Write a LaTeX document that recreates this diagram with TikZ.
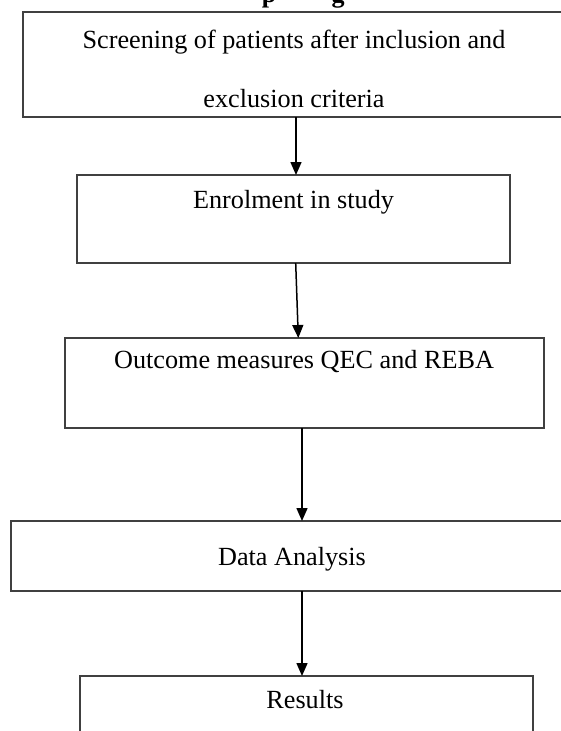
\documentclass[tikz,border=0pt]{standalone}
\usepackage{fontspec}
\setmainfont{Liberation Serif}
\usetikzlibrary{arrows.meta}
\tikzset{
  box/.style={draw=black!75, line width=1.2pt, rectangle, inner sep=0pt, outer sep=0pt},
  txt/.style={anchor=base, inner sep=0pt, outer sep=0pt, font=\fontsize{26.2}{30}\selectfont},
  frag/.style={anchor=base, inner sep=0pt, outer sep=0pt, font=\fontsize{26}{30}\selectfont\bfseries},
  arr/.style={draw=black, line width=1.5pt, -{Triangle[width=11pt,length=13pt]}}
}
\begin{document}
\begin{tikzpicture}[x=1pt, y=-1pt]
\useasboundingbox (0,0) rectangle (561,731);
\clip (0,0) rectangle (561,731);
\fill[white] (0,0) rectangle (561,731);
% cut-off heading fragments
\node[frag] (h1) at (269,2) {p};
\node[frag] (h2) at (338,2) {g};
% boxes
\node[box, minimum width=577pt, minimum height=105pt] (b1) at (311.5,64.5) {};
\node[box, minimum width=433pt, minimum height=88pt] (b2) at (293.5,219) {};
\node[box, minimum width=479pt, minimum height=90pt] (b3) at (304.5,383) {};
\node[box, minimum width=589pt, minimum height=70pt] (b4) at (305.5,556) {};
\node[box, minimum width=453pt, minimum height=104pt] (b5) at (306.5,728) {};
% texts
\node[txt] (t1a) at (294,48) {Screening of patients after inclusion and};
\node[txt] (t1b) at (294,107) {exclusion criteria};
\node[txt] (t2) at (293.5,208) {Enrolment in study};
\node[txt] (t3) at (304,368) {Outcome measures QEC and REBA};
\node[txt] (t4) at (292,565) {Data Analysis};
\node[txt] (t5) at (305,708) {Results};
% connectors
\draw[arr] (296,0 |- b1.south) -- (296,0 |- b2.north);
\draw[arr] (295.7,0 |- b2.south) -- (298.3,0 |- b3.north);
\draw[arr] (302,0 |- b3.south) -- (302,0 |- b4.north);
\draw[arr] (302,0 |- b4.south) -- (302,0 |- b5.north);
\end{tikzpicture}
\end{document}
